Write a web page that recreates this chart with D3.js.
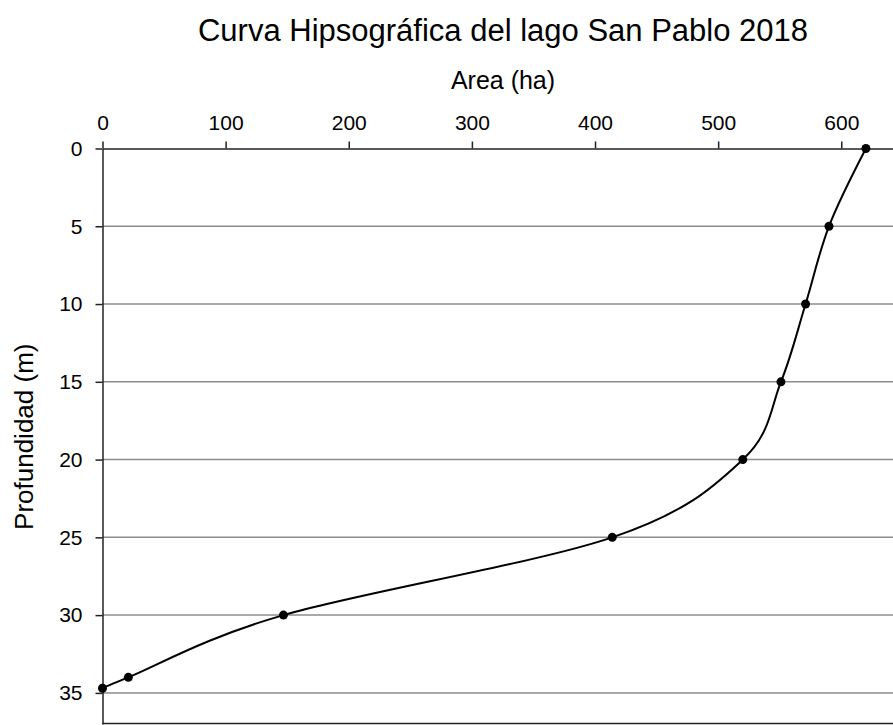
<!DOCTYPE html>
<html>
<head>
<meta charset="utf-8">
<script src="https://cdn.jsdelivr.net/npm/d3@7"></script>
<style>
  body { margin: 0; background: #fff; }
  svg { display: block; font-family: "Liberation Sans", Arial, sans-serif; }
</style>
</head>
<body>
<svg id="chart" width="893" height="725"></svg>
<script>
// hypsographic curve, San Pablo lake 2018
const areas = [620, 590, 571, 551, 520, 414, 147, 21, 0];
const depths = [0, 5, 10, 15, 20, 25, 30, 34, 34.7];
const areaTicks = [0, 100, 200, 300, 400, 500, 600];
const depthTicks = [0, 5, 10, 15, 20, 25, 30, 35];

const width = 893;
const height = 725;
const margin = { top: 148.5, left: 102.5, bottom: 1, right: 0 };

const svg = d3.select("#chart");

const x = d3.scaleLinear().domain([0, 642]).range([margin.left, width - margin.right]);
const y = d3.scaleLinear().domain([0, 37]).range([margin.top, height - margin.bottom]);

// horizontal gridlines
svg.append("g").selectAll("line").data(depthTicks.filter(d => d > 0)).join("line")
  .attr("x1", margin.left).attr("x2", width)
  .attr("y1", d => y(d)).attr("y2", d => y(d))
  .attr("stroke", "#8c8c8c").attr("stroke-width", 1.5);

// bottom border
svg.append("line").attr("x1", margin.left).attr("x2", width)
  .attr("y1", y(37) - 0.5).attr("y2", y(37) - 0.5)
  .attr("stroke", "#222").attr("stroke-width", 1.5);

const xAxis = svg.append("g").attr("transform", `translate(0,${margin.top})`)
  .call(d3.axisTop(x).tickValues(areaTicks).tickSize(7).tickSizeOuter(0));
xAxis.select(".domain").attr("stroke", "#222").attr("stroke-width", 1.5);
xAxis.selectAll(".tick line").attr("stroke", "#222").attr("stroke-width", 1.5);
xAxis.selectAll(".tick text").attr("font-size", 21).attr("fill", "#000")
  .attr("font-family", "Liberation Sans, Arial, sans-serif").attr("y", -18.5).attr("dy", 0);

const yAxis = svg.append("g").attr("transform", `translate(${margin.left},0)`)
  .call(d3.axisLeft(y).tickValues(depthTicks).tickSize(7).tickSizeOuter(0));
yAxis.select(".domain").attr("stroke", "#222").attr("stroke-width", 1.5);
yAxis.selectAll(".tick line").attr("stroke", "#222").attr("stroke-width", 1.5);
yAxis.selectAll(".tick text").attr("font-size", 21).attr("fill", "#000")
  .attr("font-family", "Liberation Sans, Arial, sans-serif").attr("x", -20);

// smoothed line, like a spreadsheet "smoothed line"
const pts = areas.map((a, i) => [a, depths[i]]);
const line = d3.line().x(d => x(d[0])).y(d => y(d[1])).curve(d3.curveCardinal.tension(0));
svg.append("path").datum(pts).attr("d", line)
  .attr("fill", "none").attr("stroke", "#000").attr("stroke-width", 2);

svg.append("g").selectAll("circle").data(pts).join("circle")
  .attr("cx", d => x(d[0])).attr("cy", d => y(d[1])).attr("r", 4.5).attr("fill", "#000");

// titles
svg.append("text").attr("x", 503).attr("y", 41).attr("text-anchor", "middle")
  .attr("font-size", 31).attr("fill", "#000").text("Curva Hipsográfica del lago San Pablo 2018");
svg.append("text").attr("x", 503).attr("y", 89).attr("text-anchor", "middle")
  .attr("font-size", 25).attr("fill", "#000").text("Area (ha)");
svg.append("text").attr("transform", `translate(33,${(margin.top + height) / 2}) rotate(-90)`)
  .attr("text-anchor", "middle").attr("font-size", 26).attr("fill", "#000").text("Profundidad (m)");
</script>
</body>
</html>
